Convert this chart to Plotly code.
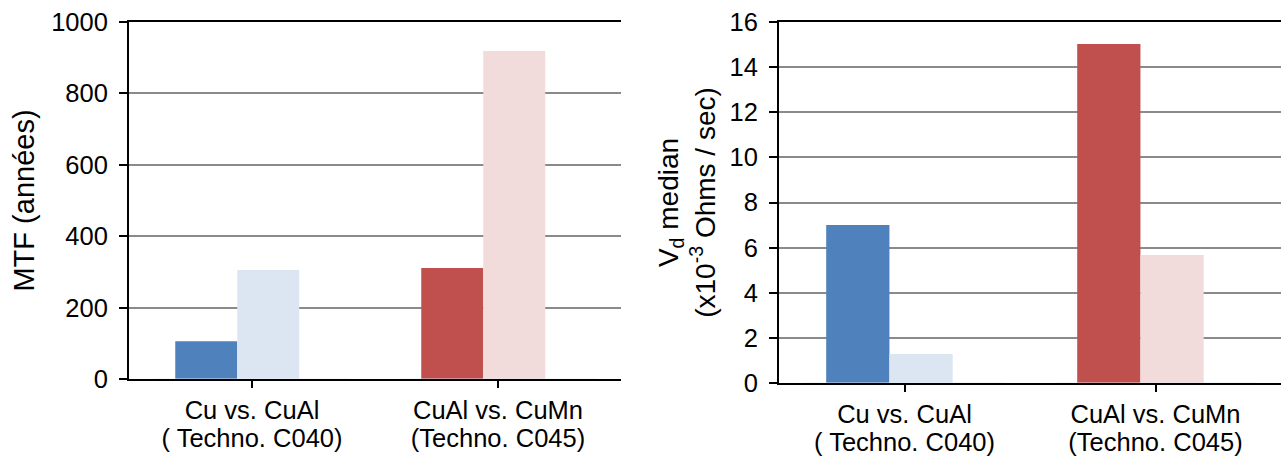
import plotly.graph_objects as go

category_line1 = ["Cu vs. CuAl", "CuAl vs. CuMn"]
category_line2 = ["( Techno. C040)", "(Techno. C045)"]
mtf_first = [106, 311]      # Cu (C040) / CuAl (C045)
mtf_second = [305, 919]     # CuAl (C040) / CuMn (C045)
vd_first = [7.0, 15.03]
vd_second = [1.29, 5.67]
first_colors = ["#4F81BD", "#C0504D"]
second_colors = ["#DCE6F2", "#F2DCDB"]
mtf_ticks = [0, 200, 400, 600, 800, 1000]
vd_ticks = [0, 2, 4, 6, 8, 10, 12, 14, 16]

W, H = 1281, 459
FONT = "Liberation Sans, Arial, sans-serif"
BW = 0.252
xs = list(range(len(category_line1)))

fig = go.Figure()
for xa, ya, s1, s2 in [("x", "y", mtf_first, mtf_second), ("x2", "y2", vd_first, vd_second)]:
    fig.add_trace(go.Bar(x=xs, y=s1, marker=dict(color=first_colors, line=dict(width=0)),
                         width=BW, offset=-0.312, xaxis=xa, yaxis=ya, showlegend=False, hoverinfo="skip"))
    fig.add_trace(go.Bar(x=xs, y=s2, marker=dict(color=second_colors, line=dict(width=0)),
                         width=BW, offset=-0.312 + BW, xaxis=xa, yaxis=ya, showlegend=False, hoverinfo="skip"))

tfont = dict(size=25.5, color="black", family=FONT)
xcommon = dict(tickmode="array", tickvals=xs, ticktext=category_line1, range=[-0.5, 1.5],
               showline=True, linecolor="black", linewidth=2, mirror=True, automargin=False,
               ticks="outside", ticklen=7, tickwidth=2, tickcolor="black", tickson="boundaries",
               showgrid=False, zeroline=False, tickfont=tfont)
xsecond = dict(tickmode="array", tickvals=xs, ticktext=category_line2, range=[-0.5, 1.5],
               showline=False, ticks="", showgrid=False, zeroline=False, automargin=False,
               tickfont=tfont, ticklabelstandoff=41)
ycommon = dict(showline=True, linecolor="black", linewidth=2, ticks="outside", ticklen=8, tickwidth=2,
               tickcolor="black", showgrid=True, gridcolor="#8a8a8a", gridwidth=1.5, zeroline=False,
               automargin=False, tickfont=tfont, ticklabelstandoff=6)

fig.update_layout(
    width=W, height=H, margin=dict(l=0, r=0, t=0, b=0),
    paper_bgcolor="white", plot_bgcolor="white", barmode="overlay",
    font=dict(family=FONT, color="black"),
    xaxis=dict(domain=[129 / W, 621 / W], anchor="y", **xcommon),
    yaxis=dict(domain=[1 - 379 / H, 1 - 22 / H], anchor="x", range=[0, 1000], tickvals=mtf_ticks,
               title=dict(text="MTF (années)", font=dict(size=29, family=FONT), standoff=8), **ycommon),
    xaxis3=dict(domain=[129 / W, 621 / W], anchor="y", overlaying="x", side="bottom", **xsecond),
    xaxis2=dict(domain=[779 / W, 1.0], anchor="y2", **xcommon),
    yaxis2=dict(domain=[1 - 383 / H, 1 - 22 / H], anchor="x2", range=[0, 16], tickvals=vd_ticks,
                title=dict(text="V<sub>d</sub> median<br>(x10<sup>-3</sup> Ohms / sec)",
                           font=dict(size=28, family=FONT), standoff=6), **ycommon),
    xaxis4=dict(domain=[779 / W, 1.0], anchor="y2", overlaying="x2", side="bottom", **xsecond),
)
# invisible traces to activate the second-line label axes
fig.add_trace(go.Bar(x=xs, y=[0, 0], xaxis="x3", yaxis="y", showlegend=False, hoverinfo="skip",
                     marker=dict(color="rgba(0,0,0,0)")))
fig.add_trace(go.Bar(x=xs, y=[0, 0], xaxis="x4", yaxis="y2", showlegend=False, hoverinfo="skip",
                     marker=dict(color="rgba(0,0,0,0)")))

fig.write_html("out.html", config={"displayModeBar": False},
               post_script="document.body.style.margin='0';document.body.style.overflow='hidden';")
